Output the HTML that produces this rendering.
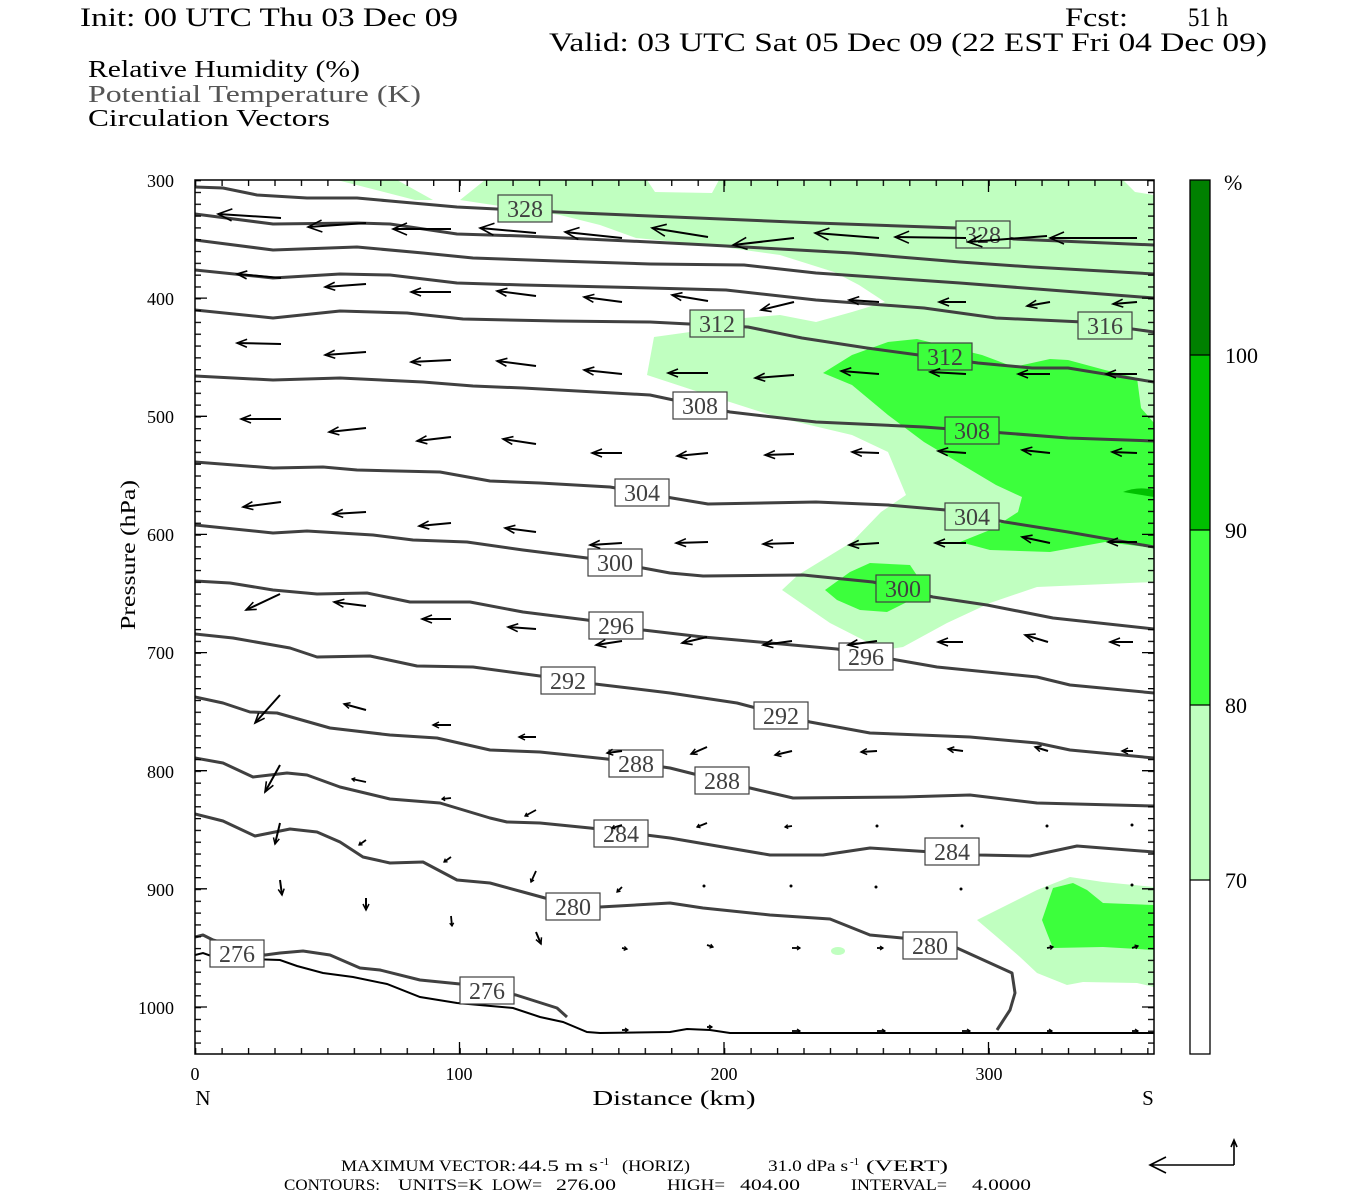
<!DOCTYPE html>
<html><head><meta charset="utf-8"><style>
html,body{margin:0;padding:0;background:#fff;}
svg{display:block;}
text{font-family:"Liberation Serif",serif;white-space:pre;}
</style></head><body>
<svg width="1350" height="1200" viewBox="0 0 1350 1200" xmlns="http://www.w3.org/2000/svg" xml:space="preserve">
<defs>
<marker id="A" markerUnits="userSpaceOnUse" markerWidth="20" markerHeight="16" viewBox="-16 -8 20 16" refX="0" refY="0" orient="auto"><path d="M-14,-6 L0,0 L-14,6" fill="none" stroke="#000" stroke-width="1.6"/></marker>
<marker id="a" markerUnits="userSpaceOnUse" markerWidth="16" markerHeight="12" viewBox="-12 -6 16 12" refX="0" refY="0" orient="auto"><path d="M-10,-4 L0,0 L-10,4" fill="none" stroke="#000" stroke-width="1.6"/></marker>
<marker id="m" markerUnits="userSpaceOnUse" markerWidth="10" markerHeight="8" viewBox="-8 -4 10 8" refX="0" refY="0" orient="auto"><path d="M-6,-3 L0,0 L-6,3" fill="none" stroke="#000" stroke-width="1.5"/></marker>
<marker id="s" markerUnits="userSpaceOnUse" markerWidth="6" markerHeight="6" viewBox="-4 -3 6 6" refX="0" refY="0" orient="auto"><path d="M-3,-2 L0,0 L-3,2" fill="none" stroke="#000" stroke-width="1.3"/></marker>
<pattern id="hy" patternUnits="userSpaceOnUse" x="0" y="180" width="10" height="11.814"><rect x="0" y="0" width="10" height="1.3" fill="#000"/></pattern>
<pattern id="hx" patternUnits="userSpaceOnUse" x="195" y="0" width="26.45" height="10"><rect x="0" y="0" width="1.3" height="10" fill="#000"/></pattern>
<clipPath id="pc"><rect x="195" y="180" width="959" height="874"/></clipPath>
</defs>

<text x="80" y="26" font-size="26" textLength="378" lengthAdjust="spacingAndGlyphs">Init: 00 UTC Thu 03 Dec 09</text>
<text x="1065" y="26" font-size="26" textLength="63" lengthAdjust="spacingAndGlyphs">Fcst:</text>
<text x="1188" y="26" font-size="26" textLength="40" lengthAdjust="spacingAndGlyphs">51 h</text>
<text x="549" y="51" font-size="26" textLength="718" lengthAdjust="spacingAndGlyphs">Valid: 03 UTC Sat 05 Dec 09 (22 EST Fri 04 Dec 09)</text>
<text x="88" y="77" font-size="24" textLength="272" lengthAdjust="spacingAndGlyphs">Relative Humidity (%)</text>
<text x="88" y="102" font-size="24" fill="#555" textLength="333" lengthAdjust="spacingAndGlyphs">Potential Temperature (K)</text>
<text x="88" y="126" font-size="24" textLength="242" lengthAdjust="spacingAndGlyphs">Circulation Vectors</text>

<g clip-path="url(#pc)">
<polygon fill="#c0ffc0" points="337,180 397,180 433,200 415,200"/>
<polygon fill="#c0ffc0" points="485,180 647,180 655,192 712,193 719,180 1123,180 1135,192 1154,195 1154,582 1037,587 990,603 947,623 903,647 883,650 830,623 782,590 798,575 852,542 881,512 906,495 888,452 852,435 780,418 708,395 647,375 654,337 690,332 744,318 780,315 816,322 852,312 885,302 859,285 834,272 780,255 708,245 636,238 600,225 560,215 460,200"/>
<ellipse cx="852" cy="297" rx="9" ry="4" fill="#fff"/>
<polygon fill="#3cff3c" points="823,373 852,355 888,342 917,339 982,355 1014,367 1050,359 1068,360 1105,370 1137,378 1141,408 1154,423 1154,548 1105,542 1050,552 990,550 960,542 990,530 1018,512 1022,497 996,485 924,442 888,415 852,385"/>
<path fill="#00c000" d="M1123,492 Q1138,486 1154,490 L1154,497 Z"/>
<polygon fill="#3cff3c" points="825,590 850,572 870,563 910,565 920,580 917,597 887,612 860,610 837,600"/>
<polygon fill="#c0ffc0" points="977,920 1003,907 1037,890 1070,877 1103,882 1154,887 1154,987 1137,983 1083,982 1067,985 1037,973 1020,957 997,937"/>
<polygon fill="#3cff3c" points="1042,920 1053,888 1073,883 1087,890 1103,903 1154,905 1154,950 1103,947 1053,948 1047,933"/>
<ellipse cx="838" cy="951" rx="7" ry="4" fill="#c0ffc0"/>

<g fill="none" stroke="#404040" stroke-width="3" stroke-linejoin="round">
<polyline points="195,187 223,188 257,195 307,198 357,198 390,201 457,207 557,212 650,216 816,223 957,228 1014,239 1154,245"/>
<polyline points="195,214 273,224 357,223 390,224 457,234 523,236 650,242 708,245 852,253 960,262 1032,267 1154,274"/>
<polyline points="195,240 273,250 357,247 423,253 473,258 557,261 650,264 744,265 816,273 960,283 1050,290 1154,298"/>
<polyline points="195,270 273,278 340,274 390,275 457,283 523,285 650,288 726,290 816,300 924,308 996,318 1083,322 1154,332"/>
<polyline points="195,310 273,318 340,311 407,313 463,319 557,321 650,322 748,327 802,338 867,348 978,363 1032,368 1068,368 1154,382"/>
<polyline points="195,376 273,380 340,378 423,382 473,386 523,388 650,395 730,412 816,422 924,427 1004,433 1068,438 1154,441"/>
<polyline points="195,462 273,468 323,467 357,470 440,472 490,481 540,483 610,487 672,498 708,504 816,502 888,505 946,510 1005,522 1068,532 1154,547"/>
<polyline points="195,525 273,533 307,531 373,535 413,540 467,542 523,550 587,558 643,568 670,573 703,576 803,575 873,582 933,597 987,605 1053,618 1154,629"/>
<polyline points="195,581 230,583 273,590 317,594 367,593 410,602 470,602 523,612 587,620 643,630 703,637 737,640 837,649 897,660 937,667 1037,677 1070,685 1154,693"/>
<polyline points="195,634 233,638 290,648 317,657 370,656 417,666 473,667 540,676 595,684 670,693 737,703 810,722 870,733 970,737 1037,743 1070,750 1154,758"/>
<polyline points="195,697 223,703 250,712 277,713 330,728 390,735 437,738 490,750 540,752 607,759 670,768 750,788 793,798 903,797 970,795 1037,803 1154,806"/>
<polyline points="195,758 223,763 253,777 287,773 307,775 340,787 390,799 440,803 490,818 507,822 540,823 590,828 670,838 770,855 823,855 870,848 979,855 1030,856 1077,846 1154,852"/>
<polyline points="195,814 223,821 255,836 290,829 317,832 340,842 363,857 390,863 423,862 457,880 490,883 523,892 545,898 600,907 670,903 703,908 770,915 830,919 870,935 902,938 957,948 1012,973 1015,993 1010,1010 997,1030"/>
<polyline points="195,937 203,935 213,940 265,955 280,953 303,951 330,955 360,968 380,970 420,980 460,984 516,995 557,1008 567,1017"/>
</g>
<polyline fill="none" stroke="#000" stroke-width="2" points="195,955 203,953 217,958 280,960 297,966 323,973 353,977 387,984 420,997 457,1003 513,1008 540,1017 563,1022 587,1032 600,1033 670,1032 687,1029 710,1030 730,1033 1154,1033"/>

<g stroke="#404040" stroke-width="1.2">
<rect x="498" y="195" width="54" height="27" fill="#c0ffc0"/>
<rect x="956" y="221" width="54" height="27" fill="#c0ffc0"/>
<rect x="1078" y="312" width="54" height="27" fill="#c0ffc0"/>
<rect x="690" y="310" width="54" height="27" fill="#c0ffc0"/>
<rect x="918" y="343" width="54" height="27" fill="#3cff3c"/>
<rect x="673" y="392" width="54" height="27" fill="#fff"/>
<rect x="945" y="417" width="54" height="27" fill="#3cff3c"/>
<rect x="615" y="479" width="54" height="27" fill="#fff"/>
<rect x="945" y="503" width="54" height="27" fill="#c0ffc0"/>
<rect x="588" y="549" width="54" height="27" fill="#fff"/>
<rect x="876" y="575" width="54" height="27" fill="#3cff3c"/>
<rect x="589" y="612" width="54" height="27" fill="#fff"/>
<rect x="839" y="643" width="54" height="27" fill="#fff"/>
<rect x="541" y="667" width="54" height="27" fill="#fff"/>
<rect x="754" y="702" width="54" height="27" fill="#fff"/>
<rect x="609" y="750" width="54" height="27" fill="#fff"/>
<rect x="695" y="767" width="54" height="27" fill="#fff"/>
<rect x="594" y="820" width="54" height="27" fill="#fff"/>
<rect x="925" y="838" width="54" height="27" fill="#fff"/>
<rect x="546" y="893" width="54" height="27" fill="#fff"/>
<rect x="903" y="932" width="54" height="27" fill="#fff"/>
<rect x="210" y="940" width="54" height="27" fill="#fff"/>
<rect x="460" y="977" width="54" height="27" fill="#fff"/>
</g>
<g font-size="24" fill="#404040" text-anchor="middle">
<text x="525" y="217">328</text><text x="983" y="243">328</text><text x="1105" y="334">316</text>
<text x="717" y="332">312</text><text x="945" y="365">312</text><text x="700" y="414">308</text>
<text x="972" y="439">308</text><text x="642" y="501">304</text><text x="972" y="525">304</text>
<text x="615" y="571">300</text><text x="903" y="597">300</text><text x="616" y="634">296</text>
<text x="866" y="665">296</text><text x="568" y="689">292</text><text x="781" y="724">292</text>
<text x="636" y="772">288</text><text x="722" y="789">288</text><text x="621" y="842">284</text>
<text x="952" y="860">284</text><text x="573" y="915">280</text><text x="930" y="954">280</text>
<text x="237" y="962">276</text><text x="487" y="999">276</text>
</g>

<g stroke="#000" stroke-width="2" fill="none">
<g marker-end="url(#A)">
<line x1="281" y1="218" x2="218" y2="214"/><line x1="366" y1="223" x2="308" y2="227"/><line x1="451" y1="229" x2="393" y2="229"/><line x1="536" y1="233" x2="480" y2="228"/><line x1="622" y1="238" x2="565" y2="232"/><line x1="708" y1="237" x2="652" y2="228"/><line x1="794" y1="238" x2="733" y2="245"/><line x1="879" y1="238" x2="815" y2="233"/><line x1="966" y1="238" x2="895" y2="237"/><line x1="1047" y1="236" x2="968" y2="242"/><line x1="1137" y1="238" x2="1050" y2="238"/>
</g>
<g marker-end="url(#a)">
<line x1="281" y1="278" x2="237" y2="274"/><line x1="366" y1="284" x2="325" y2="287"/><line x1="451" y1="292" x2="411" y2="292"/><line x1="536" y1="296" x2="497" y2="291"/><line x1="622" y1="302" x2="584" y2="297"/><line x1="708" y1="301" x2="672" y2="295"/><line x1="794" y1="302" x2="761" y2="310"/><line x1="879" y1="302" x2="849" y2="300"/><line x1="966" y1="302" x2="939" y2="302"/><line x1="1050" y1="302" x2="1027" y2="306"/><line x1="1137" y1="302" x2="1113" y2="304"/>
<line x1="281" y1="344" x2="237" y2="343"/><line x1="366" y1="352" x2="325" y2="355"/><line x1="451" y1="360" x2="411" y2="362"/><line x1="536" y1="366" x2="497" y2="361"/><line x1="622" y1="374" x2="584" y2="370"/><line x1="708" y1="373" x2="668" y2="373"/><line x1="794" y1="375" x2="755" y2="378"/><line x1="879" y1="374" x2="841" y2="371"/><line x1="966" y1="374" x2="930" y2="372"/><line x1="1050" y1="374" x2="1018" y2="374"/><line x1="1137" y1="374" x2="1106" y2="374"/>
<line x1="281" y1="419" x2="241" y2="419"/><line x1="366" y1="428" x2="329" y2="432"/><line x1="451" y1="437" x2="417" y2="441"/><line x1="536" y1="444" x2="503" y2="439"/><line x1="622" y1="453" x2="592" y2="453"/><line x1="708" y1="453" x2="677" y2="456"/><line x1="794" y1="454" x2="765" y2="455"/><line x1="879" y1="453" x2="852" y2="452"/><line x1="966" y1="453" x2="938" y2="451"/><line x1="1050" y1="453" x2="1022" y2="450"/><line x1="1137" y1="453" x2="1112" y2="452"/>
<line x1="281" y1="502" x2="243" y2="507"/><line x1="366" y1="512" x2="333" y2="514"/><line x1="451" y1="523" x2="419" y2="526"/><line x1="536" y1="532" x2="505" y2="528"/><line x1="622" y1="543" x2="590" y2="545"/><line x1="708" y1="542" x2="676" y2="543"/><line x1="794" y1="543" x2="763" y2="544"/><line x1="879" y1="543" x2="849" y2="545"/><line x1="966" y1="543" x2="935" y2="543"/><line x1="1050" y1="543" x2="1022" y2="537"/><line x1="1137" y1="542" x2="1108" y2="542"/>
<line x1="280" y1="594" x2="246" y2="610"/><line x1="366" y1="606" x2="334" y2="602"/><line x1="451" y1="619" x2="422" y2="619"/><line x1="536" y1="629" x2="508" y2="627"/><line x1="622" y1="641" x2="596" y2="645"/><line x1="707" y1="637" x2="682" y2="643"/><line x1="792" y1="641" x2="763" y2="645"/><line x1="877" y1="641" x2="848" y2="645"/><line x1="963" y1="642" x2="938" y2="642"/><line x1="1048" y1="642" x2="1025" y2="635"/><line x1="1133" y1="642" x2="1110" y2="642"/>
<line x1="280" y1="695" x2="255" y2="723"/><line x1="280" y1="765" x2="265" y2="792"/>
</g>
<g marker-end="url(#m)">
<line x1="366" y1="710" x2="344" y2="704"/><line x1="451" y1="725" x2="433" y2="725"/><line x1="536" y1="737" x2="519" y2="737"/><line x1="622" y1="751" x2="607" y2="753"/><line x1="707" y1="747" x2="691" y2="754"/><line x1="792" y1="751" x2="775" y2="755"/><line x1="877" y1="751" x2="861" y2="752"/><line x1="963" y1="751" x2="948" y2="749"/><line x1="1048" y1="751" x2="1035" y2="747"/><line x1="1133" y1="751" x2="1122" y2="751"/>
<line x1="280" y1="823" x2="275" y2="844"/><line x1="280" y1="880" x2="282" y2="895"/><line x1="366" y1="898" x2="366" y2="910"/><line x1="536" y1="932" x2="541" y2="944"/>
</g>
<g marker-end="url(#s)" stroke-width="1.8">
<line x1="366" y1="782" x2="352" y2="779"/><line x1="451" y1="798" x2="442" y2="799"/><line x1="536" y1="810" x2="525" y2="816"/><line x1="622" y1="825" x2="612" y2="828"/><line x1="707" y1="823" x2="697" y2="827"/><line x1="792" y1="826" x2="785" y2="827"/>
<line x1="366" y1="840" x2="359" y2="845"/><line x1="451" y1="857" x2="444" y2="862"/><line x1="536" y1="871" x2="531" y2="882"/><line x1="622" y1="887" x2="617" y2="892"/>
<line x1="451" y1="916" x2="452" y2="926"/><line x1="622" y1="948" x2="627" y2="949"/><line x1="707" y1="945" x2="713" y2="947"/><line x1="792" y1="948" x2="800" y2="948"/><line x1="877" y1="948" x2="883" y2="948"/><line x1="1047" y1="948" x2="1053" y2="947"/><line x1="1132" y1="948" x2="1138" y2="946"/>
<line x1="622" y1="1030" x2="628" y2="1030"/><line x1="707" y1="1027" x2="712" y2="1027"/><line x1="792" y1="1031" x2="800" y2="1031"/><line x1="877" y1="1031" x2="885" y2="1031"/><line x1="962" y1="1031" x2="970" y2="1031"/><line x1="1047" y1="1031" x2="1052" y2="1031"/><line x1="1132" y1="1031" x2="1138" y2="1031"/>
</g>
<g fill="#000" stroke="none">
<circle cx="877" cy="826" r="1.5"/><circle cx="962" cy="826" r="1.5"/><circle cx="1047" cy="826" r="1.5"/><circle cx="1132" cy="825" r="1.5"/>
<circle cx="704" cy="886" r="1.5"/><circle cx="791" cy="886" r="1.5"/><circle cx="876" cy="887" r="1.5"/><circle cx="961" cy="889" r="1.5"/><circle cx="1047" cy="888" r="1.5"/><circle cx="1132" cy="885" r="1.5"/>
</g>
</g>
</g>

<rect x="195" y="180" width="6" height="874" fill="url(#hy)"/>
<rect x="1148" y="180" width="6" height="874" fill="url(#hy)"/>
<rect x="195" y="1048" width="959" height="6" fill="url(#hx)"/>
<rect x="195" y="180" width="959" height="6" fill="url(#hx)"/>
<g stroke="#000" stroke-width="1.3">
<path d="M195,298.1h12M195,416.3h12M195,534.4h12M195,652.6h12M195,770.7h12M195,888.8h12M195,1007h12 M1154,298.1h-12M1154,416.3h-12M1154,534.4h-12M1154,652.6h-12M1154,770.7h-12M1154,888.8h-12M1154,1007h-12 M459.5,1054v-12M724,1054v-12M988.5,1054v-12 M459.5,180v12M724,180v12M988.5,180v12"/>
</g>
<rect x="195" y="180" width="959" height="874" fill="none" stroke="#000" stroke-width="1.5"/>

<g font-size="18" text-anchor="end">
<text x="174" y="187">300</text><text x="174" y="305">400</text><text x="174" y="423">500</text><text x="174" y="541">600</text><text x="174" y="659">700</text><text x="174" y="778">800</text><text x="174" y="896">900</text><text x="174" y="1014">1000</text>
</g>
<g font-size="18" text-anchor="middle">
<text x="195" y="1080">0</text><text x="459" y="1080">100</text><text x="724" y="1080">200</text><text x="989" y="1080">300</text>
</g>
<text x="203" y="1105" font-size="21" text-anchor="middle">N</text>
<text x="1148" y="1105" font-size="21" text-anchor="middle">S</text>
<text x="674" y="1105" font-size="21" text-anchor="middle" textLength="163" lengthAdjust="spacingAndGlyphs">Distance (km)</text>
<text transform="translate(135,555) rotate(-90)" font-size="21" text-anchor="middle" textLength="150" lengthAdjust="spacingAndGlyphs">Pressure (hPa)</text>

<rect x="1190" y="180" width="20" height="175" fill="#008000"/>
<rect x="1190" y="355" width="20" height="175" fill="#00c000"/>
<rect x="1190" y="530" width="20" height="175" fill="#3cff3c"/>
<rect x="1190" y="705" width="20" height="175" fill="#c0ffc0"/>
<rect x="1190" y="880" width="20" height="174" fill="#fff"/>
<g stroke="#000" stroke-width="1.3" fill="none">
<rect x="1190" y="180" width="20" height="874"/>
<path d="M1190,355h20M1190,530h20M1190,705h20M1190,880h20"/>
</g>
<g font-size="22">
<text x="1224" y="190">%</text>
<text x="1225" y="363">100</text><text x="1225" y="538">90</text><text x="1225" y="713">80</text><text x="1225" y="888">70</text>
</g>

<g font-size="16">
<text x="341" y="1171" textLength="175" lengthAdjust="spacingAndGlyphs">MAXIMUM VECTOR:</text>
<text x="518" y="1171" textLength="80" lengthAdjust="spacingAndGlyphs">44.5 m s</text>
<text x="600" y="1165" font-size="11">-1</text>
<text x="622" y="1171" textLength="68" lengthAdjust="spacingAndGlyphs">(HORIZ)</text>
<text x="768" y="1171" textLength="80" lengthAdjust="spacingAndGlyphs">31.0 dPa s</text>
<text x="850" y="1165" font-size="11">-1</text>
<text x="866" y="1171" textLength="82" lengthAdjust="spacingAndGlyphs">(VERT)</text>
<text x="284" y="1190" textLength="96" lengthAdjust="spacingAndGlyphs">CONTOURS:</text>
<text x="398" y="1190" textLength="85" lengthAdjust="spacingAndGlyphs">UNITS=K</text>
<text x="492" y="1190" textLength="50" lengthAdjust="spacingAndGlyphs">LOW=</text>
<text x="556" y="1190" textLength="60" lengthAdjust="spacingAndGlyphs">276.00</text>
<text x="667" y="1190" textLength="58" lengthAdjust="spacingAndGlyphs">HIGH=</text>
<text x="740" y="1190" textLength="60" lengthAdjust="spacingAndGlyphs">404.00</text>
<text x="851" y="1190" textLength="96" lengthAdjust="spacingAndGlyphs">INTERVAL=</text>
<text x="972" y="1190" textLength="59" lengthAdjust="spacingAndGlyphs">4.0000</text>
</g>
<g stroke="#000" stroke-width="1.6" fill="none">
<path d="M1234,1165 H1150 M1166,1157 L1150,1165 L1166,1173 M1234,1165 V1140 M1231,1147 L1234,1140 L1237,1147"/>
</g>
</svg>
</body></html>
